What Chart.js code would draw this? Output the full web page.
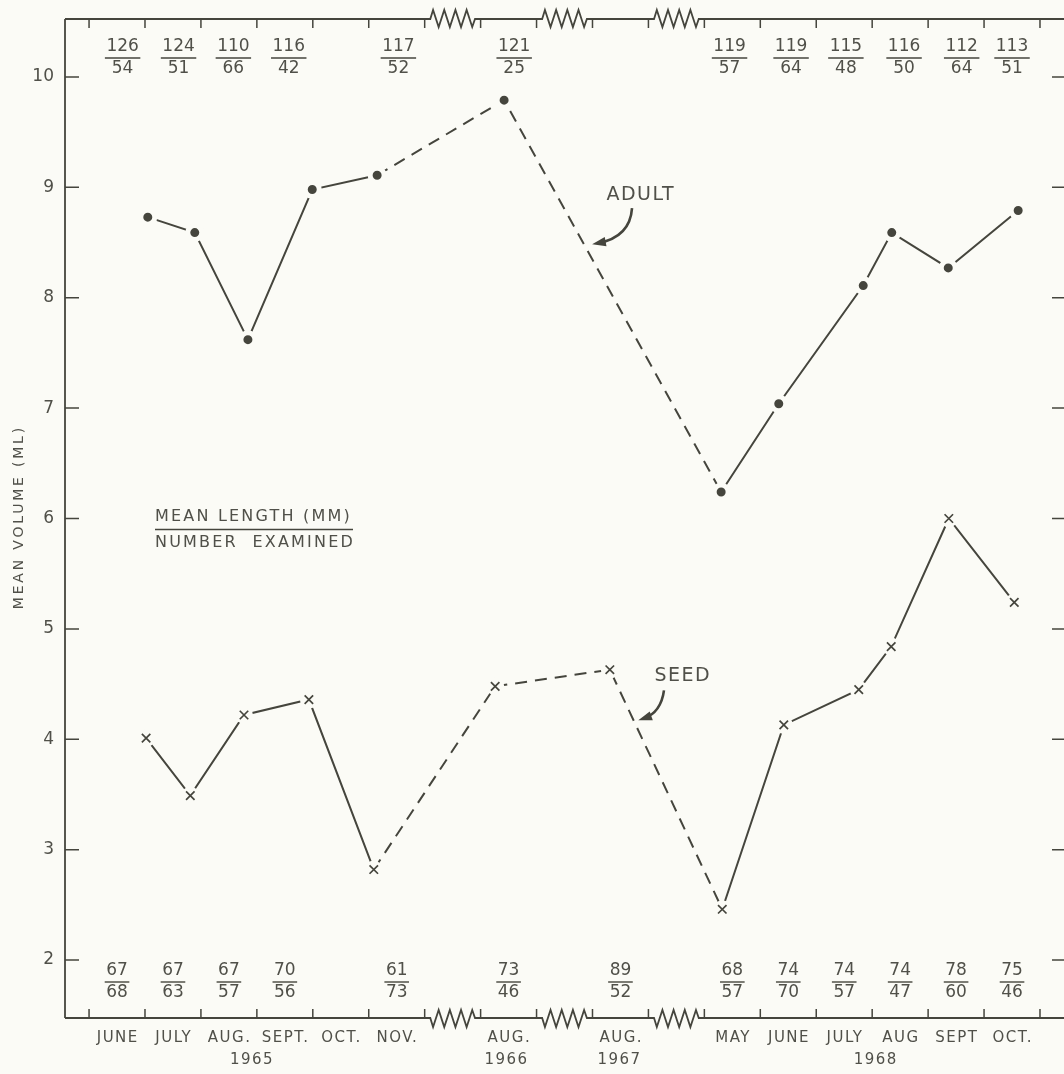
<!DOCTYPE html>
<html>
<head>
<meta charset="utf-8">
<script src="https://cdn.jsdelivr.net/npm/chart.js@4.4.1/dist/chart.umd.min.js"></script>
<style>
  html, body { margin: 0; padding: 0; background: #fbfbf6; overflow: hidden; }
  #wrap { width: 1080px; height: 1074px; }
</style>
</head>
<body>
<div id="wrap"><canvas id="chart" width="1080" height="1074"></canvas></div>
<script>
// x is measured in month slots: tick n marks the start of slot n
const xTicks = [0, 1, 2, 3, 4, 5, 6, 7, 8, 9, 10, 11, 12, 13, 14, 15, 16, 17];
const xBreaks = [[6, 7], [8, 9], [10, 11]];
const yTicks = [2, 3, 4, 5, 6, 7, 8, 9, 10];

const months = ["JUNE", "JULY", "AUG.", "SEPT.", "OCT.", "NOV.", "AUG.", "AUG.",
                "MAY", "JUNE", "JULY", "AUG", "SEPT", "OCT."];
const monthSlots = [0.5, 1.5, 2.5, 3.5, 4.5, 5.5, 7.5, 9.5, 11.5, 12.5, 13.5, 14.5, 15.5, 16.5];
const years = ["1965", "1966", "1967", "1968"];
const yearSlots = [2.9, 7.45, 9.47, 14.05];

// adult: mean volume, mean length / number examined
const adultX = [1.05, 1.89, 2.84, 3.99, 5.15, 7.42, 11.30, 12.33, 13.84, 14.35, 15.36, 16.61];
const adultVolume = [8.73, 8.59, 7.62, 8.98, 9.11, 9.79, 6.24, 7.04, 8.11, 8.59, 8.27, 8.79];
const adultDashed = [4, 5];
const adultLength = [126, 124, 110, 116, 117, 121, 119, 119, 115, 116, 112, 113];
const adultCount = [54, 51, 66, 42, 52, 25, 57, 64, 48, 50, 64, 51];
const adultSlots = [0.6, 1.6, 2.58, 3.57, 5.53, 7.6, 11.45, 12.55, 13.53, 14.57, 15.6, 16.5];

// seed
const seedX = [1.02, 1.81, 2.77, 3.93, 5.09, 7.26, 9.31, 11.32, 12.42, 13.76, 14.34, 15.37, 16.54];
const seedVolume = [4.01, 3.49, 4.22, 4.36, 2.82, 4.48, 4.63, 2.46, 4.13, 4.45, 4.84, 6.00, 5.24];
const seedDashed = [4, 5, 6];
const seedLength = [67, 67, 67, 70, 61, 73, 89, 68, 74, 74, 74, 78, 75];
const seedCount = [68, 63, 57, 56, 73, 46, 52, 57, 70, 57, 47, 60, 46];
const seedSlots = [0.5, 1.5, 2.5, 3.5, 5.5, 7.5, 9.5, 11.5, 12.5, 13.5, 14.5, 15.5, 16.5];

const ink = "#45453d";
const textInk = "#505049";
const paper = "#fbfbf6";
const FONT = '"DejaVu Sans", sans-serif';

function points(xs, ys) {
    return xs.map((x, i) => ({ x: x, y: ys[i] }));
}

function label(ctx, str, x, y, size, align, spacing) {
    ctx.font = size + "px " + FONT;
    ctx.letterSpacing = (spacing || 0) + "px";
    ctx.textAlign = align || "center";
    ctx.textBaseline = "middle";
    // letterSpacing adds a trailing gap, pull centred text back by half of it
    const shift = (align === "center" || !align) ? (spacing || 0) / 2 : 0;
    ctx.fillText(str, x + shift, y);
}

function fraction(ctx, num, den, cx, lineY) {
    ctx.font = "17px " + FONT;
    ctx.letterSpacing = "0px";
    const w = Math.max(ctx.measureText(String(num)).width, ctx.measureText(String(den)).width) + 3;
    label(ctx, String(num), cx, lineY - 11, 17);
    label(ctx, String(den), cx, lineY + 11, 17);
    ctx.beginPath();
    ctx.moveTo(cx - w / 2, lineY);
    ctx.lineTo(cx + w / 2, lineY);
    ctx.stroke();
}

// horizontal border with a zigzag in each axis break; out = +1 draws peaks downward
function border(ctx, x, left, right, yPix, out) {
    ctx.beginPath();
    ctx.moveTo(left, yPix);
    xBreaks.forEach(b => {
        const x0 = x.getPixelForValue(b[0]);
        const x1 = x.getPixelForValue(b[1]);
        const pad = (x1 - x0) * 0.1;
        const span = x1 - x0 - 2 * pad;
        ctx.lineTo(x0 + pad, yPix);
        const n = 8;
        for (let k = 0; k < n; k++) {
            const px = x0 + pad + span * (k + 0.5) / n;
            ctx.lineTo(px, yPix + (k % 2 === 0 ? 9 * out : -8 * out));
        }
        ctx.lineTo(x1 - pad, yPix);
    });
    ctx.lineTo(right, yPix);
    ctx.stroke();
}

function arrow(ctx, sx, sy, cx, cy, ex, ey) {
    ctx.beginPath();
    ctx.moveTo(sx, sy);
    ctx.quadraticCurveTo(cx, cy, ex, ey);
    ctx.lineWidth = 2.6;
    ctx.stroke();
    const ang = Math.atan2(ey - cy, ex - cx);
    ctx.beginPath();
    ctx.moveTo(ex + Math.cos(ang) * 6, ey + Math.sin(ang) * 6);
    ctx.lineTo(ex + Math.cos(ang + 2.6) * 9, ey + Math.sin(ang + 2.6) * 9);
    ctx.lineTo(ex + Math.cos(ang - 2.6) * 9, ey + Math.sin(ang - 2.6) * 9);
    ctx.closePath();
    ctx.fill();
}

const frame = {
    id: "frame",
    beforeDatasetsDraw(chart) {
        const { ctx, chartArea: a, scales: { x, y } } = chart;
        ctx.save();
        ctx.strokeStyle = ink;
        ctx.fillStyle = textInk;
        ctx.lineWidth = 1.8;

        // left and right borders
        ctx.beginPath();
        ctx.moveTo(a.left, a.top);
        ctx.lineTo(a.left, a.bottom);
        ctx.moveTo(a.right, a.top);
        ctx.lineTo(a.right, a.bottom);
        ctx.stroke();

        border(ctx, x, a.left, a.right, a.top, -1);
        border(ctx, x, a.left, a.right, a.bottom, 1);

        // inward ticks
        ctx.lineWidth = 1.5;
        ctx.beginPath();
        yTicks.forEach(v => {
            const py = y.getPixelForValue(v);
            ctx.moveTo(a.left, py);
            ctx.lineTo(a.left + 14, py);
            ctx.moveTo(a.right, py);
            ctx.lineTo(a.right - 14, py);
        });
        xTicks.forEach(v => {
            const px = x.getPixelForValue(v);
            ctx.moveTo(px, a.bottom);
            ctx.lineTo(px, a.bottom - 9);
            ctx.moveTo(px, a.top);
            ctx.lineTo(px, a.top + 9);
        });
        ctx.stroke();

        // y tick labels and title
        yTicks.forEach(v => label(ctx, String(v), a.left - 11, y.getPixelForValue(v), 17, "right", 0));
        ctx.save();
        ctx.translate(19, y.getPixelForValue(6.0));
        ctx.rotate(-Math.PI / 2);
        label(ctx, "MEAN VOLUME (ML)", 0, 0, 14, "center", 2.8);
        ctx.restore();

        // month and year labels
        months.forEach((m, i) => label(ctx, m, x.getPixelForValue(monthSlots[i]), a.bottom + 20, 15, "center", 1.5));
        years.forEach((yr, i) => label(ctx, yr, x.getPixelForValue(yearSlots[i]), a.bottom + 42, 15, "center", 1.5));

        // mean length / number examined
        ctx.lineWidth = 1.4;
        adultLength.forEach((v, i) => fraction(ctx, v, adultCount[i], x.getPixelForValue(adultSlots[i]), a.top + 39));
        seedLength.forEach((v, i) => fraction(ctx, v, seedCount[i], x.getPixelForValue(seedSlots[i]), a.bottom - 36));

        // key
        const kx = a.left + 90;
        const ky = y.getPixelForValue(5.9);
        label(ctx, "MEAN LENGTH (MM)", kx, ky - 13, 16, "left", 2.2);
        label(ctx, "NUMBER  EXAMINED", kx, ky + 13, 16, "left", 2.2);
        ctx.beginPath();
        ctx.moveTo(kx, ky);
        ctx.lineTo(kx + 198, ky);
        ctx.stroke();

        // series annotations
        ctx.fillStyle = textInk;
        const ax = x.getPixelForValue(9.85), ay = y.getPixelForValue(8.93);
        label(ctx, "ADULT", ax, ay, 19, "center", 1.5);
        ctx.fillStyle = ink;
        arrow(ctx, ax - 8, ay + 13, ax - 10, ay + 42, ax - 42, ay + 48);

        ctx.fillStyle = textInk;
        const sx = x.getPixelForValue(10.6), sy = y.getPixelForValue(4.57);
        label(ctx, "SEED", sx, sy, 19, "center", 1.5);
        ctx.fillStyle = ink;
        arrow(ctx, sx - 18, sy + 14, sx - 21, sy + 36, sx - 38, sy + 42);

        ctx.restore();
    }
};

new Chart(document.getElementById("chart"), {
    type: "line",
    data: {
        datasets: [
            {
                label: "Adult",
                data: points(adultX, adultVolume),
                borderColor: ink,
                borderWidth: 2,
                pointRadius: 7,
                pointBorderWidth: 5,
                pointBackgroundColor: ink,
                pointBorderColor: paper,
                segment: {
                    borderDash: c => adultDashed.includes(c.p0DataIndex) ? [12, 8] : []
                },
                order: 0
            },
            {
                label: "Seed",
                data: points(seedX, seedVolume),
                borderColor: ink,
                borderWidth: 2,
                pointRadius: 0,
                segment: {
                    borderDash: c => seedDashed.includes(c.p0DataIndex) ? [12, 8] : []
                },
                order: 3
            },
            {
                label: "Seed gap",
                data: points(seedX, seedVolume),
                showLine: false,
                pointRadius: 9,
                pointBorderWidth: 0,
                pointBackgroundColor: paper,
                order: 2
            },
            {
                label: "Seed marks",
                data: points(seedX, seedVolume),
                showLine: false,
                pointStyle: "crossRot",
                pointRadius: 6,
                pointBorderWidth: 1.7,
                pointBorderColor: ink,
                order: 1
            }
        ]
    },
    options: {
        responsive: false,
        animation: false,
        layout: { padding: { left: 65, top: 19, right: 14, bottom: 56 } },
        plugins: { legend: { display: false }, tooltip: { enabled: false } },
        scales: {
            x: { type: "linear", min: -0.43, max: 17.465, display: false },
            y: { type: "linear", min: 1.475, max: 10.525, display: false }
        }
    },
    plugins: [frame]
});
</script>
</body>
</html>
